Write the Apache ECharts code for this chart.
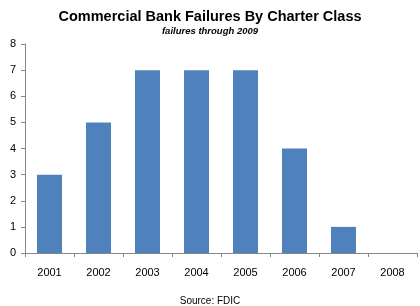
<!DOCTYPE html>
<html><head><meta charset="utf-8">
<script src="https://cdn.jsdelivr.net/npm/echarts@6/dist/echarts.min.js"></script>
<style>html,body{margin:0;padding:0;background:#fff}#c{width:420px;height:306px}</style>
</head><body><div id="c"></div>
<script>
const categories = ['2001','2002','2003','2004','2005','2006','2007','2008'];
const failures = [3,5,7,7,7,4,1,0];
const yTicks = {min:0, max:8, interval:1};
const titleText = 'Commercial Bank Failures By Charter Class';
const subtitleText = 'failures through 2009';
const sourceText = 'Source: FDIC';

const chart = echarts.init(document.getElementById('c'), null, {renderer:'canvas'});
const axisColor = '#868686';
const font = "'Liberation Sans', sans-serif";
chart.setOption({
  animation:false,
  title:[
    {text:titleText, left:'center', top:4, textStyle:{fontFamily:font, fontWeight:'bold', fontSize:14.5, color:'#000'}},
    {text:subtitleText, left:'center', top:21, textStyle:{fontFamily:font, fontWeight:'bold', fontStyle:'italic', fontSize:9.5, color:'#000'}},
    {text:sourceText, left:'center', top:291, textStyle:{fontFamily:font, fontWeight:'normal', fontSize:10, color:'#000'}}
  ],
  grid:{left:25, right:3, top:44, bottom:53, containLabel:false},
  xAxis:{type:'category', data:categories,
    axisLine:{lineStyle:{color:axisColor}},
    axisTick:{show:true, alignWithLabel:false, length:4, lineStyle:{color:axisColor}},
    axisLabel:{color:'#000', fontFamily:font, fontSize:11, margin:14}},
  yAxis:{type:'value', min:yTicks.min, max:yTicks.max, interval:yTicks.interval,
    splitLine:{show:false},
    axisLine:{show:true, lineStyle:{color:axisColor}},
    axisTick:{show:true, length:4, lineStyle:{color:axisColor}},
    axisLabel:{color:'#000', fontFamily:font, fontSize:11, margin:9}},
  series:[{type:'bar', data:failures, barWidth:'51%', itemStyle:{color:'#4F81BD'}}]
});
</script></body></html>
